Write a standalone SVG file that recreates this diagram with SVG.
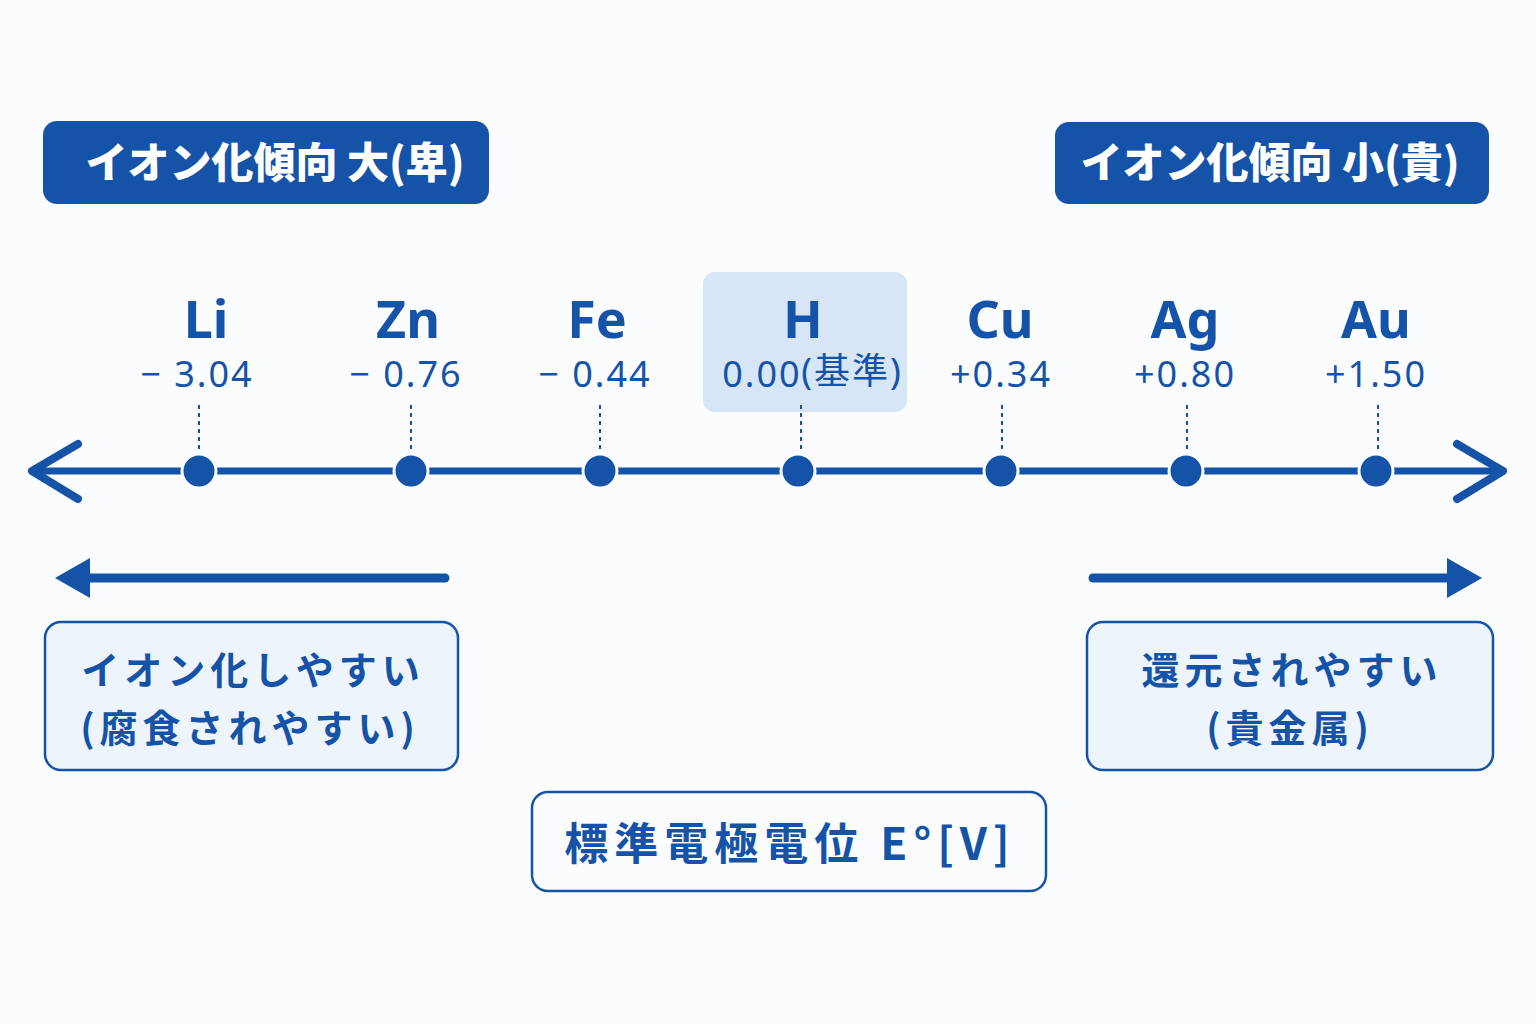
<svg xmlns="http://www.w3.org/2000/svg" width="1536" height="1024" viewBox="0 0 1536 1024">
<style>
.el{font-family:"Noto Sans","Noto Sans CJK JP",sans-serif;font-weight:700;font-size:52px;fill:#1553a8;text-anchor:middle}
.v{font-family:"Noto Sans","Noto Sans CJK JP",sans-serif;font-size:36px;fill:#1553a8;text-anchor:middle;letter-spacing:2px}
.hd{font-family:"Noto Sans CJK JP",sans-serif;font-weight:900;font-size:42px;fill:#fff;text-anchor:middle}
.bx{fill:#eef4fb;stroke:#1553a8;stroke-width:2.5}
.bt{font-family:"Noto Sans CJK JP",sans-serif;font-weight:700;font-size:38px;fill:#1553a8;text-anchor:middle;letter-spacing:5px}
.dot{fill:#1553a8;stroke:#fafcfe;stroke-width:3}
.tick{stroke:#1553a8;stroke-width:2;stroke-dasharray:4 4}
</style>
<rect width="1536" height="1024" fill="#fafcfe"/>
<g id="header-left"><rect x="43" y="121" width="446" height="83" rx="14" fill="#1553a8"/><text class="hd" x="275" y="178">イオン化傾向 大(卑)</text></g>
<g id="header-right"><rect x="1055" y="122" width="434" height="82" rx="14" fill="#1553a8"/><text class="hd" x="1270" y="178">イオン化傾向 小(貴)</text></g>
<g id="H-highlight"><rect x="703" y="272" width="204" height="140" rx="12" fill="#d6e6f7"/></g>
<g id="connectors" stroke="#1553a8" fill="none" stroke-linecap="round" stroke-linejoin="round">
<line x1="32" y1="471" x2="1503" y2="471" stroke-width="7"/>
<polyline points="78,444 32,471 78,499" stroke-width="8"/>
<polyline points="1457,444 1503,471 1457,499" stroke-width="8"/>
<line x1="445" y1="578" x2="85" y2="578" stroke-width="9"/>
<polygon points="55,578 90,558 90,598" fill="#1553a8" stroke="none"/>
<line x1="1093" y1="578" x2="1450" y2="578" stroke-width="9"/>
<polygon points="1482,578 1447,558 1447,598" fill="#1553a8" stroke="none"/>
</g>
<g id="Li"><text class="el" x="206" y="338">Li</text><text class="v" x="197" y="387">− 3.04</text><line class="tick" x1="199" y1="405" x2="199" y2="455"/><circle class="dot" cx="199" cy="471" r="17"/></g>
<g id="Zn"><text class="el" x="408" y="338">Zn</text><text class="v" x="406" y="387">− 0.76</text><line class="tick" x1="411" y1="405" x2="411" y2="455"/><circle class="dot" cx="411" cy="471" r="17"/></g>
<g id="Fe"><text class="el" x="597" y="338">Fe</text><text class="v" x="595" y="387">− 0.44</text><line class="tick" x1="600" y1="405" x2="600" y2="455"/><circle class="dot" cx="600" cy="471" r="17"/></g>
<g id="H"><text class="el" x="803" y="338">H</text><text class="v" x="762" y="387">0.00</text><text class="v" x="852" y="384" font-size="26" letter-spacing="0">(基準)</text><line class="tick" x1="801" y1="405" x2="801" y2="455"/><circle class="dot" cx="798" cy="471" r="17"/></g>
<g id="Cu"><text class="el" x="1000" y="338">Cu</text><text class="v" x="1001" y="387">+0.34</text><line class="tick" x1="1002" y1="405" x2="1002" y2="455"/><circle class="dot" cx="1001" cy="471" r="17"/></g>
<g id="Ag"><text class="el" x="1185" y="338">Ag</text><text class="v" x="1185" y="387">+0.80</text><line class="tick" x1="1187" y1="405" x2="1187" y2="455"/><circle class="dot" cx="1186" cy="471" r="17"/></g>
<g id="Au"><text class="el" x="1376" y="338">Au</text><text class="v" x="1376" y="387">+1.50</text><line class="tick" x1="1378" y1="405" x2="1378" y2="455"/><circle class="dot" cx="1376" cy="471" r="17"/></g>
<g id="box-left"><rect class="bx" x="45" y="622" width="413" height="148" rx="16"/><text class="bt" x="253" y="684">イオン化しやすい</text><text class="bt" x="250" y="742">(腐食されやすい)</text></g>
<g id="box-right"><rect class="bx" x="1087" y="622" width="406" height="148" rx="16"/><text class="bt" x="1292" y="684">還元されやすい</text><text class="bt" x="1290" y="742">(貴金属)</text></g>
<g id="box-axis"><rect class="bx" x="532" y="792" width="514" height="99" rx="16" style="fill:#fafcfe"/><text class="bt" x="790" y="860" style="font-size:44px;letter-spacing:6px">標準電極電位 E°[V]</text></g>
</svg>
